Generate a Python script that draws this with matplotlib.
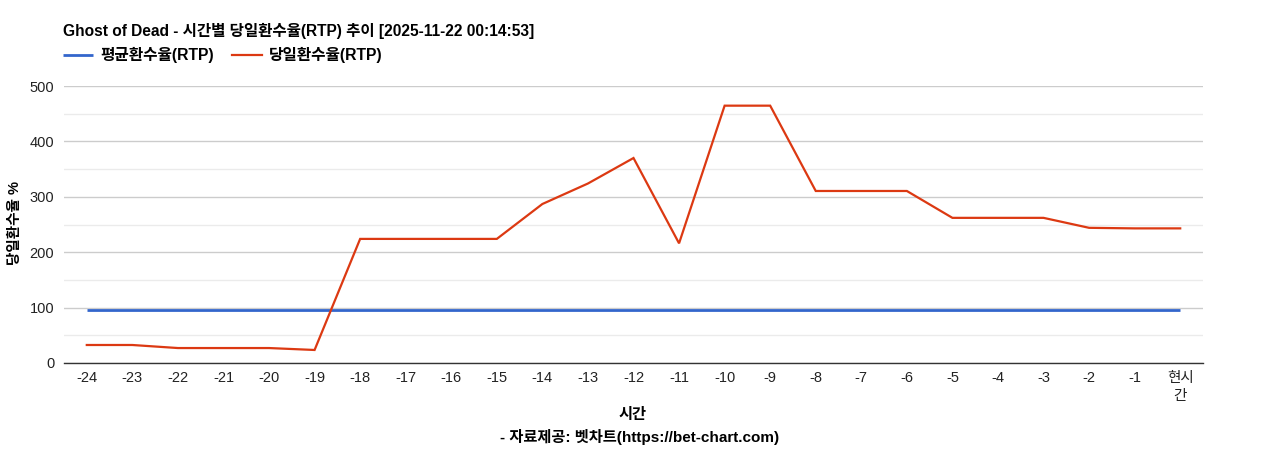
import matplotlib
matplotlib.use("Agg")
import matplotlib.pyplot as plt
from matplotlib.ticker import MultipleLocator

categories = ["-24", "-23", "-22", "-21", "-20", "-19", "-18", "-17", "-16", "-15",
              "-14", "-13", "-12", "-11", "-10", "-9", "-8", "-7", "-6", "-5",
              "-4", "-3", "-2", "-1", "현시\n간"]
avg_rtp = [96] * 25
day_rtp = [32.5, 32.5, 27, 27, 27, 23.5, 224, 224, 224, 224,
           287, 324, 370, 216, 464.5, 464.5, 310.5, 310.5, 310.5, 262,
           262, 262, 244, 243, 243]

title = "Ghost of Dead - 시간별 당일환수율(RTP) 추이 [2025-11-22 00:14:53]"
series_names = ["평균환수율(RTP)", "당일환수율(RTP)"]

FAM = ["Liberation Sans", "Noto Sans CJK KR", "DejaVu Sans"]
plt.rcParams['font.family'] = FAM

fig = plt.figure(figsize=(12.68, 4.5), dpi=100)
ax = fig.add_axes([64/1268, 1-363/450, (1203-64)/1268, (363-86)/450])

x = list(range(len(categories)))
l1, = ax.plot(x, avg_rtp, color="#3366cc", lw=2.0, solid_capstyle="butt")
l2, = ax.plot(x, day_rtp, color="#dc3912", lw=1.6, solid_joinstyle="miter")

ax.set_xlim(-0.5, len(categories) - 0.5)
ax.set_ylim(0, 500)
ax.yaxis.set_major_locator(MultipleLocator(100))
ax.yaxis.set_minor_locator(MultipleLocator(50))
ax.grid(which="major", axis="y", color="#cccccc", lw=1)
ax.grid(which="minor", axis="y", color="#ebebeb", lw=1)
ax.set_axisbelow(True)
for s in ["top", "right", "left"]:
    ax.spines[s].set_visible(False)
ax.spines["bottom"].set_color("#333333")
ax.spines["bottom"].set_linewidth(1)
ax.tick_params(axis="both", which="both", length=0, labelsize=10.5, colors="#222222")
ax.tick_params(axis="x", pad=6)
ax.tick_params(axis="y", pad=7)
ax.set_xticks(x)
ax.set_xticklabels(categories, linespacing=1.3)

fig.text(15/1268, 1-223/450, "당일환수율 %", ha="center", va="center", rotation=90,
         fontsize=10.5, fontweight="bold")
fig.text(633/1268, 1-415/450, "시간", ha="center", va="center", fontsize=11, fontweight="bold")
fig.text(640/1268, 1-437/450, "- 자료제공: 벳차트(https://bet-chart.com)", ha="center", va="center",
         fontsize=11, fontweight="bold")
fig.text(63/1268, 1-31/450, title, ha="left", va="center", fontsize=11.2, fontweight="bold")

fig.legend([l1, l2], series_names, loc="center left", bbox_to_anchor=(63/1268, 1-55/450),
           ncol=2, frameon=False, prop={"size": 11.3, "weight": "bold", "family": FAM},
           handlelength=1.9, handletextpad=0.45, columnspacing=1.2,
           borderpad=0, borderaxespad=0)

fig.savefig("out.png", dpi=100, facecolor="white")
